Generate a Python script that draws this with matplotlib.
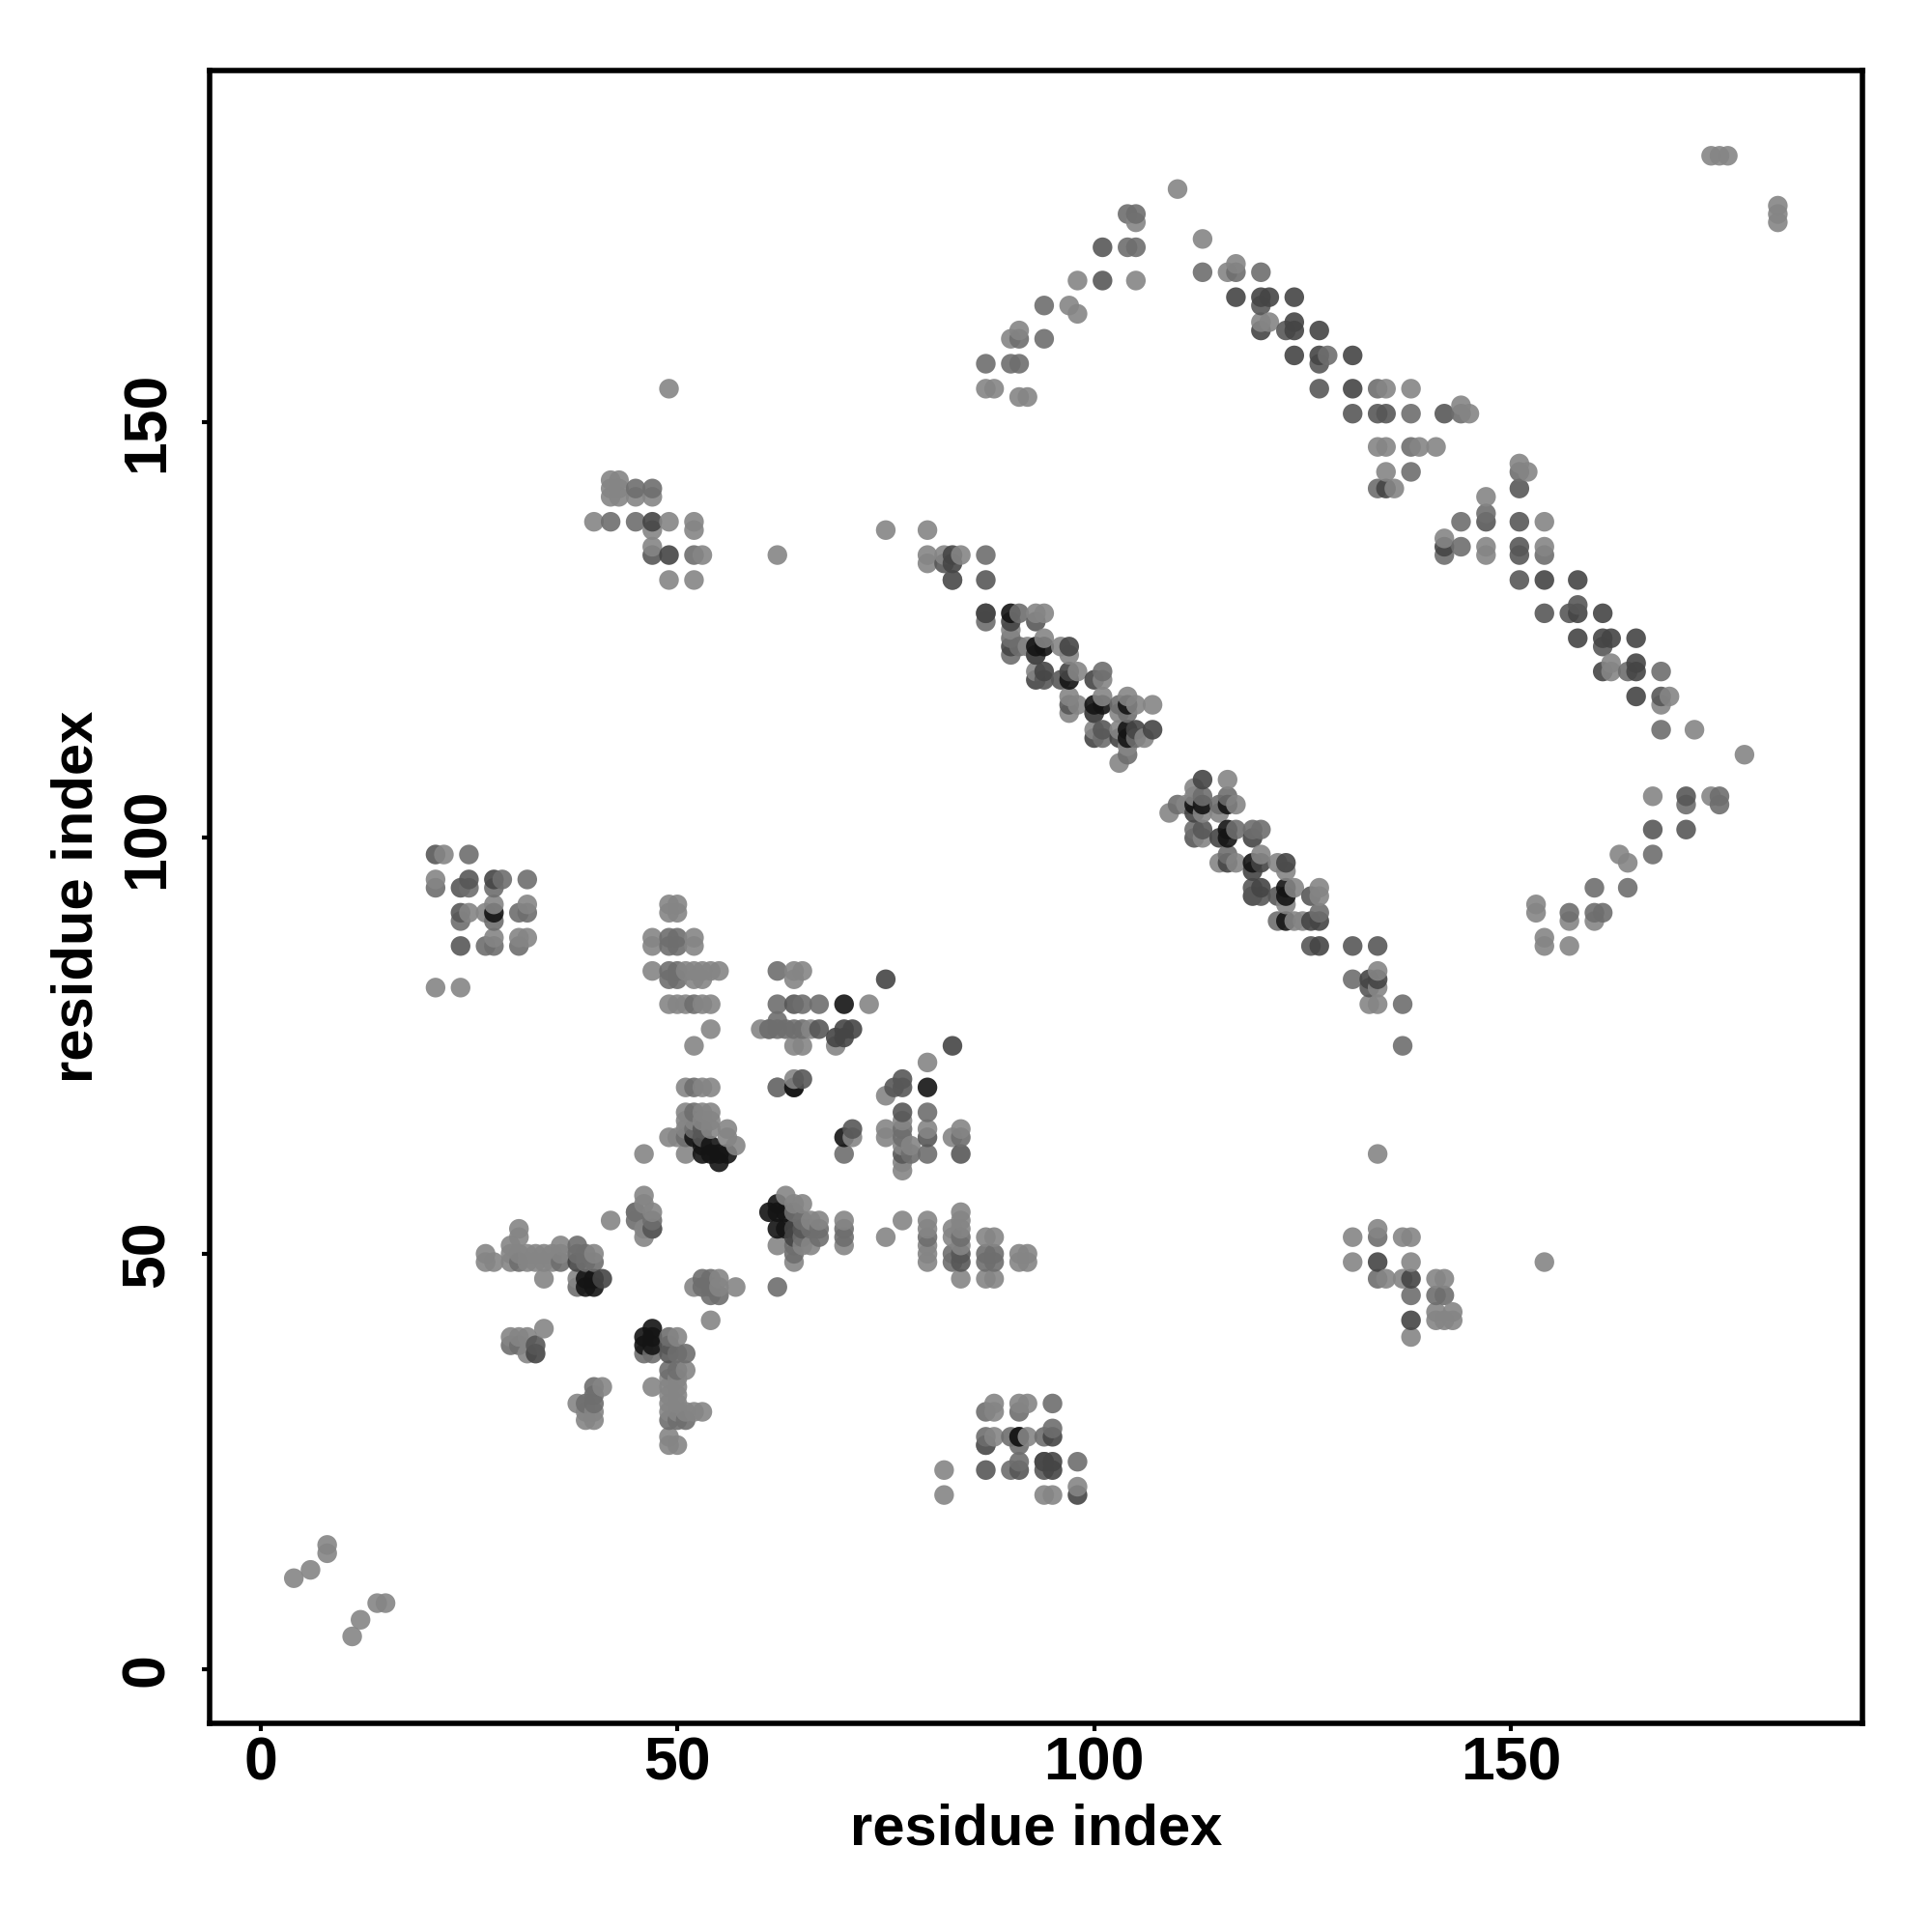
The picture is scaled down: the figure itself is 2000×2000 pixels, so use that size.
import matplotlib
matplotlib.use('Agg')
import matplotlib.pyplot as plt

# contacts, grouped by how dark the dot is
light = [(4,11),(6,12),(8,15),(8,14),(11,4),(12,6),(14,8),(15,8),
    (22,98),(21,95),(28,92),(32,92),(25,91),(27,91),(28,88),(31,88),(32,88),(21,82),(24,82),
    (49,92),(50,92),(49,91),(50,91),(47,88),(52,88),(47,87),(52,87),(47,84),(51,84),(52,84),(53,84),(54,84),(55,84),
    (52,83),(53,83),(49,80),(50,80),(51,80),(53,80),(54,80),(54,77),(52,75),
    (51,70),(53,70),(54,70),(51,67),(53,67),(54,67),(51,66),(52,66),(53,66),(54,66),(51,65),(54,65),(56,65),(56,64),
    (49,64),(50,64),(46,62),(51,62),(57,63),(46,57),(42,54),
    (31,53),(46,52),(30,51),(31,52),(36,51),(27,50),(30,50),(31,50),(32,50),(33,50),(34,50),(35,50),(36,50),(40,50),
    (27,49),(28,49),(30,49),(32,49),(33,49),(34,49),(35,49),(34,47),(38,47),
    (46,56),(47,55),(45,55),(46,53),(52,46),(55,47),(57,46),(55,46),(54,42),(34,41),(30,40),(31,40),(32,40),
    (50,40),(32,38),(51,36),(49,35),(50,35),(41,34),(38,32),(39,31),(40,31),(39,30),(40,30),(47,34),
    (49,34),(50,34),(49,33),(50,33),(49,32),(50,32),(49,31),(50,31),(51,31),(52,31),(53,31),(49,28),(49,27),(50,27),
    (64,84),(65,84),(64,83),(73,80),(60,77),(61,77),(66,77),(64,75),(65,75),(69,75),(80,73),(64,71),(62,70),(75,69),
    (77,66),(75,65),(80,65),(84,65),(71,64),(75,64),(83,64),(77,63),(78,63),(77,61),(77,60),(63,57),(64,56),(65,56),
    (67,54),(70,54),(66,54),(62,51),(65,51),(66,51),(70,51),(64,49),(77,54),(75,52),(80,54),(80,53),(80,51),(80,50),(80,49),
    (83,53),(83,52),(84,55),(84,54),(84,53),(84,51),(84,47),(87,52),(88,52),(87,47),(88,47),(91,50),(92,50),(91,49),(92,49),
    (88,32),(88,31),(91,32),(92,32),(88,28),(92,28),(82,24),(82,21),(94,21),(95,21),(98,22),
    (134,62),(154,49),(49,154),(62,134),(75,137),(178,110),(110,178),
    (42,143),(43,143),(42,142),(43,142),(42,141),(43,141),(45,141),(40,138),(49,138),(52,137),(53,134),(49,131),(52,131),
    (47,141),(47,135),(47,137),(52,138),
    (131,52),(131,49),(134,53),(137,52),(138,52),(138,49),(135,47),(137,47),(141,47),(142,47),(138,40),(141,43),(143,43),(141,42),(142,42),(143,42),
    (80,137),(80,134),(80,133),(82,134),(84,134),(93,127),(94,127),(90,125),(92,123),(96,123),(97,122),(94,124),
    (93,120),(98,120),(101,119),(97,117),(98,116),(97,115),(101,117),(104,117),(105,116),(103,115),(107,116),
    (100,113),(103,113),(106,112),(104,111),(103,109),
    (109,103),(111,104),(112,106),(116,107),(112,105),(113,103),(117,104),(115,103),(113,100),(115,97),(117,97),(120,98),
    (122,97),(123,96),(124,94),(123,92),(127,94),(127,93),(133,80),(134,80),(134,84),(134,82),(124,90),(125,90),
    (113,172),(116,168),(117,169),(120,162),(121,162),(135,154),(138,154),(144,152),(145,151),(134,147),(135,147),(139,147),(141,147),(135,144),(136,142),
    (151,145),(152,144),(147,141),(154,138),(142,136),(147,135),(147,134),(154,135),(162,121),(162,120),(169,117),(168,116),(172,113),
    (167,105),(174,105),(163,98),(164,97),(153,92),(153,91),(154,88),(154,87),(157,90),(160,90),(157,87),
    (110,178),(105,174),(98,167),(105,167),(97,164),(98,163),(91,161),(90,160),(87,154),(88,154),(91,153),(92,153),
    (174,182),(175,182),(176,182),(182,176),(182,175),(182,174)]

mid = [(25,98),(29,95),(32,95),(21,94),(25,94),(28,94),(31,91),(32,91),(24,90),(28,90),(27,87),(28,87),(31,87),
    (49,88),(50,88),(49,87),(50,87),(49,84),(50,84),(49,83),(50,83),(52,80),(52,70),(52,67),(52,65),(51,64),(38,51),
    (31,49),(36,49),(39,49),(40,49),(38,50),(39,50),(38,46),(45,55),(45,54),(47,54),(47,53),(53,47),(54,47),(54,46),(53,46),(54,45),(55,45),(62,46),
    (49,40),(46,38),(47,38),(51,38),(50,38),(49,36),(50,36),(40,34),(40,33),(39,32),(40,32),(51,30),(49,30),(50,30),(30,39),(31,39),
    (62,84),(62,80),(65,80),(67,80),(62,78),(61,77),(62,77),(63,77),(64,77),(65,77),(62,70),(80,67),(77,65),(77,64),(84,64),(70,62),(78,62),(80,62),
    (64,55),(65,54),(66,53),(67,53),(70,53),(67,52),(70,52),(65,52),(64,51),(64,50),(80,52),(83,50),(83,49),(84,52),
    (87,50),(88,50),(87,49),(88,49),(87,31),(91,31),(95,32),(87,28),(87,27),(90,28),(91,27),(94,28),(95,29),(90,24),(91,25),(94,25),(98,25),
    (45,142),(47,142),(45,138),(42,138),(52,134),(134,52),(134,47),(138,45),(141,45),(142,45),
    (83,131),(87,134),(87,126),(91,127),(90,124),(91,123),(90,122),(101,120),(101,112),(103,116),(104,115),(104,110),(105,112),
    (110,104),(113,105),(116,105),(115,104),(112,101),(117,101),(119,101),(120,101),(116,98),(127,91),(122,90),(113,168),(120,168),(131,83),(137,80),(137,75),
    (117,168),(138,151),(144,151),(134,142),(138,147),(138,144),(151,144),(147,139),(144,138),(142,134),(144,135),(154,134),(164,120),(168,120),(168,113),
    (171,104),(175,105),(175,104),(167,98),(164,94),(160,94),(161,91),(160,91),(157,91),
    (104,175),(105,175),(104,171),(105,171),(94,164),(91,160),(94,160),(87,157),(90,157),(91,157),(128,158),(134,154)]

darkmid = [(21,98),(25,95),(24,94),(24,91),(24,87),(53,64),(53,65),(47,53),(33,39),(49,39),(49,38),
    (64,80),(67,77),(65,71),(77,71),(76,70),(77,70),(77,67),(80,64),(71,65),(77,62),(84,62),(65,53),
    (84,50),(84,49),(87,24),(91,24),(94,24),(87,27),
    (47,134),(82,133),(83,131),(87,131),(87,127),(93,126),(93,122),(94,119),(96,119),(97,116),(101,113),(100,115),
    (113,101),(112,100),(122,93),(119,94),(120,93),(126,93),(126,87),(131,87),(134,87),(133,82),
    (120,164),(123,161),(127,157),(127,154),(131,151),(134,151),(135,151),(142,151),
    (151,142),(147,138),(151,138),(151,135),(151,134),(151,131),(154,127),(157,127),(158,128),(161,123),(168,117),
    (171,105),(167,101),(171,101),(101,171),(101,167)]

dark = [(28,95),(75,83),(69,76),(70,77),(71,77),(70,76),(83,75),(64,70),(33,38),(64,52),(64,53),(38,49),(41,47),
    (47,138),(49,134),(134,49),(138,47),(138,42),(83,134),(83,133),(87,127),(90,126),(90,123),(93,119),(94,120),(97,123),(93,122),
    (100,119),(97,120),(100,115),(100,112),(103,112),(105,113),(107,113),(113,107),(112,103),(119,100),(115,100),(116,97),(120,97),(119,96),(120,94),(119,93),(123,97),
    (126,90),(127,90),(127,87),(133,83),(134,83),(91,28),(95,28),(94,25),(95,25),(98,21),(95,24),
    (117,165),(120,165),(121,165),(124,165),(120,161),(124,162),(124,161),(127,161),(124,158),(127,158),(131,158),(131,154),(135,142),
    (142,135),(154,131),(158,131),(158,127),(161,127),(158,124),(161,124),(162,124),(165,124),(161,120),(165,121),(165,120),(165,117)]

black = [(55,61),(53,63),(53,62),(54,62),(55,62),(56,62),(52,64),(54,63),(62,56),(61,55),(62,55),(62,53),(63,53),(63,55),
    (39,47),(40,47),(39,46),(40,46),(47,41),(46,40),(47,40),(46,39),(47,39),(28,91),
    (70,80),(70,64),(80,70),(64,70),(90,127),(93,123),(94,123),(97,119),(100,116),(101,116),(104,116),(104,113),(104,112),
    (112,104),(113,104),(116,104),(116,101),(116,100),(119,97),(123,94),(123,93),(123,90),(91,28)]

levels = [light, mid, darkmid, dark, black]
level_gray = [0.52, 0.43, 0.34, 0.27, 0.08]

pts = []
for group, g in zip(levels, level_gray):
    for p in set(group):
        pts.append((p[0], p[1], g))
# later residues sit on top in the original
pts.sort(key=lambda p: (p[0], p[1]))
x = [p[0] for p in pts]
y = [p[1] for p in pts]
c = [str(p[2]) for p in pts]

plt.rcParams['font.family'] = ['Liberation Sans', 'DejaVu Sans']
plt.rcParams['font.weight'] = 'bold'

fig = plt.figure(figsize=(20, 20), dpi=100)
ax = fig.add_axes([217/2000, 1-1784/2000, (1928-217)/2000, (1784-73)/2000])
ax.scatter(x, y, s=215, c=c, alpha=0.9, linewidths=0, zorder=3)

ax.set_xlim(-6.1, 192.15)
ax.set_ylim(-6.45, 192.25)
ax.set_xticks([0, 50, 100, 150])
ax.set_yticks([0, 50, 100, 150])
ax.tick_params(axis='x', length=6, width=3, labelsize=45, pad=3)
ax.tick_params(axis='y', length=6, width=3, labelsize=45, pad=19)
for t in ax.get_yticklabels():
    t.set_rotation(90)
    t.set_va('center')
ax.set_xlabel('residue index', fontsize=43, fontweight='bold', labelpad=8)
ax.set_ylabel('residue index', fontsize=43, fontweight='bold', labelpad=11)
for s in ax.spines.values():
    s.set_linewidth(4)

plt.savefig('out.png', dpi=100)
